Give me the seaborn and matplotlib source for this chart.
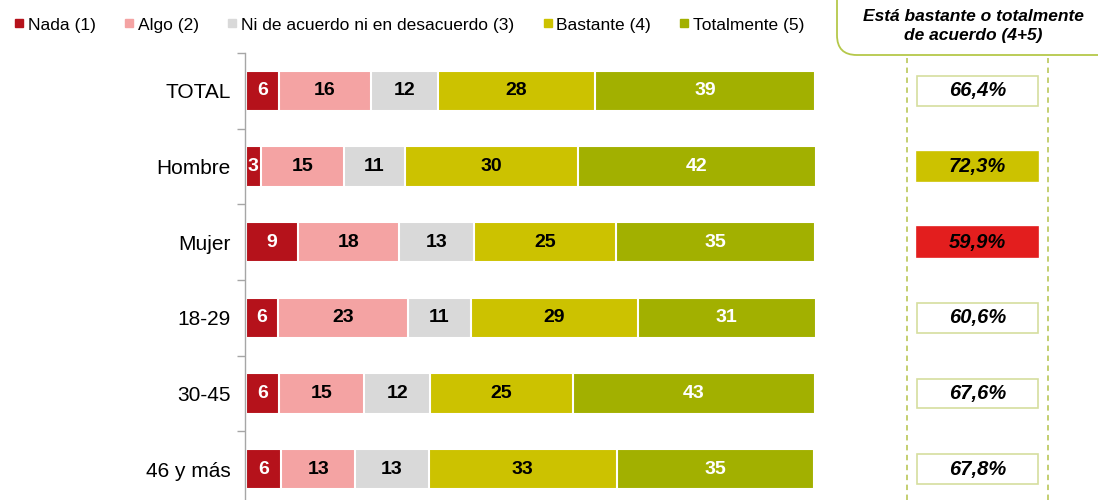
import matplotlib
matplotlib.use('Agg')
import matplotlib.pyplot as plt
from matplotlib.patches import FancyBboxPatch
from matplotlib.lines import Line2D
import numpy as np
import pandas as pd
import seaborn as sns

# categories and answer levels
groups = ['TOTAL', 'Hombre', 'Mujer', '18-29', '30-45', '46 y más']
levels = ['Nada (1)', 'Algo (2)', 'Ni de acuerdo ni en desacuerdo (3)', 'Bastante (4)', 'Totalmente (5)']

# share of answers per group (%)
nada = [5.8, 2.6, 9.1, 5.6, 5.8, 6.2]
algo = [16.1, 14.6, 17.8, 22.8, 14.9, 13.0]
neutral = [11.8, 10.7, 13.2, 11.1, 11.7, 12.9]
bastante = [27.7, 30.4, 25.0, 29.4, 25.0, 33.1]
totalmente = [38.6, 41.9, 34.9, 31.2, 42.6, 34.7]

# "bastante o totalmente de acuerdo (4+5)"
agree_pct = [66.4, 72.3, 59.9, 60.6, 67.6, 67.8]

colors = ['#B5121B', '#F4A3A3', '#D9D9D9', '#CCC200', '#A2B000']
label_colors = ['white', 'black', 'black', 'black', 'white']

plt.rcParams['font.family'] = ['Liberation Sans', 'DejaVu Sans']

series = [nada, algo, neutral, bastante, totalmente]
df = pd.DataFrame({lvl: vals for lvl, vals in zip(levels, series)}, index=groups)
cum = df.cumsum(axis=1)

fig = plt.figure(figsize=(10.98, 5.0), dpi=100)
ax = fig.add_axes([246 / 1098, -0.014, 569 / 1098, 0.908])

# stacked bars: draw cumulative totals from the outermost segment inwards
for lvl, col in reversed(list(zip(levels, colors))):
    d = pd.DataFrame({'grupo': groups, 'valor': cum[lvl].values})
    sns.barplot(data=d, y='grupo', x='valor', orient='h', color=col,
                width=0.53, edgecolor='white', linewidth=1.5, ax=ax,
                saturation=1)

for i, g in enumerate(groups):
    start = 0
    for lvl, lc in zip(levels, label_colors):
        v = df.loc[g, lvl]
        ax.text(start + v / 2, i, f'{round(v):d}', ha='center', va='center',
                fontsize=14, fontweight='bold', color=lc)
        start += v

ax.set_xlim(0, 100)
ax.set_ylim(len(groups) - 0.5, -0.5)
ax.set_xlabel('')
ax.set_ylabel('')
ax.set_xticks([])
ax.set_yticks(range(len(groups)))
ax.set_yticklabels(groups)
ax.set_yticks(np.arange(-0.5, len(groups), 1), minor=True)
ax.tick_params(axis='y', which='major', length=0, pad=10, labelsize=15)
ax.tick_params(axis='y', which='minor', length=6, color='#A6A6A6', width=1)
for s in ['top', 'right', 'bottom']:
    ax.spines[s].set_visible(False)
ax.spines['left'].set_color('#A6A6A6')
ax.spines['left'].set_linewidth(1)
ax.spines['left'].set_position(('outward', 1))
ax.set_facecolor('none')

# right panel with the 4+5 summary
ax2 = fig.add_axes([907 / 1098, -0.014, 141 / 1098, 0.908])
ax2.set_xlim(0, 141)
ax2.set_ylim(len(groups) - 0.5, -0.5)
ax2.axis('off')
best = int(np.argmax(agree_pct))
worst = int(np.argmin(agree_pct))
for i, p in enumerate(agree_pct):
    fc = 'white'
    ec = '#D6DE9E'
    if i == best:
        fc, ec = '#CCC200', '#CCC200'
    elif i == worst:
        fc, ec = '#E31E1E', '#E31E1E'
    ax2.barh(i, 121, left=10, height=0.39, color=fc, edgecolor=ec, linewidth=1.2)
    ax2.text(70.5, i, f'{p:.1f}%'.replace('.', ','), ha='center', va='center',
             fontsize=14.5, fontweight='bold', fontstyle='italic', color='black')

for xf in [907 / 1098, 1048 / 1098]:
    fig.add_artist(Line2D([xf, xf], [0, 1 - 58 / 500], color='#BFCC66',
                          linestyle=(0, (3, 2.5)), linewidth=1.3))

header = FancyBboxPatch((837 / 1098, 1 - 55 / 500), 0.3, 0.2,
                        boxstyle='round,pad=0,rounding_size=0.018',
                        transform=fig.transFigure, facecolor='white',
                        edgecolor='#B5C84A', linewidth=1.3, mutation_aspect=2.2)
fig.add_artist(header)
fig.text(973 / 1098, 1 - 26 / 500, 'Está bastante o totalmente\nde acuerdo (4+5)',
         ha='center', va='center', fontsize=12.5, fontweight='bold',
         fontstyle='italic', linespacing=1.35)

handles = [Line2D([], [], marker='s', linestyle='', markersize=6,
                  markerfacecolor=c, markeredgecolor=c) for c in colors]
fig.legend(handles, levels, loc='center left', bbox_to_anchor=(0.007, 1 - 25 / 500),
           ncol=5, frameon=False, fontsize=12.5, handlelength=0.5,
           handletextpad=0.25, columnspacing=1.68, borderaxespad=0)

fig.savefig('out.png', dpi=100)
plt.close(fig)
